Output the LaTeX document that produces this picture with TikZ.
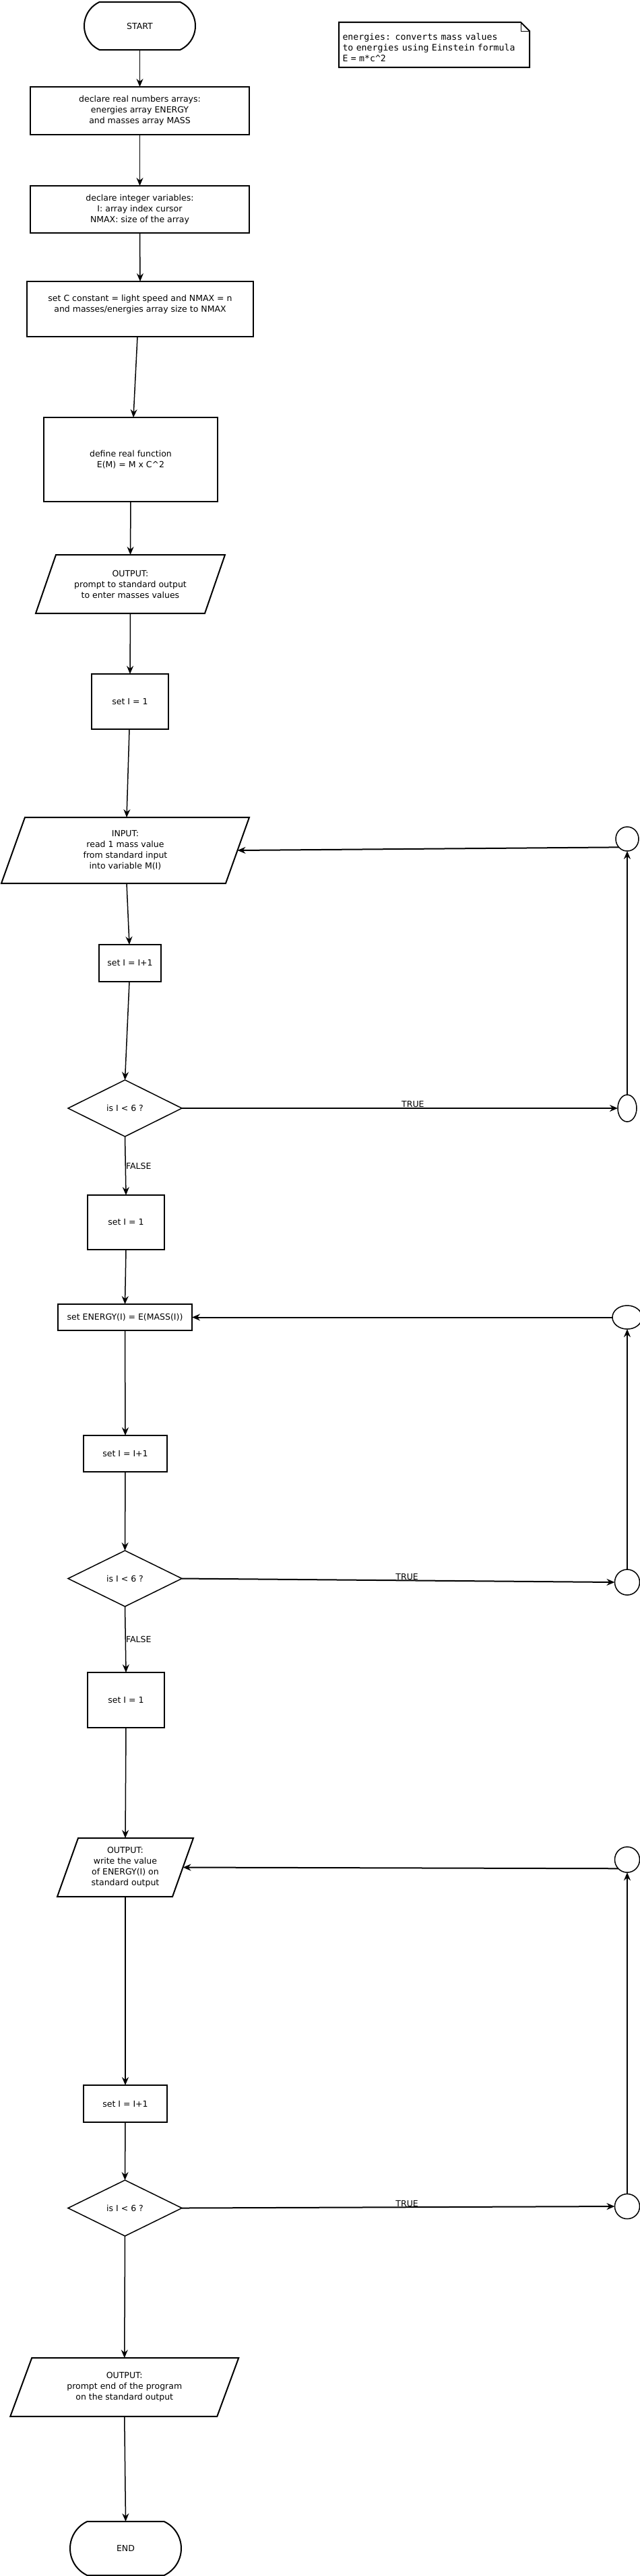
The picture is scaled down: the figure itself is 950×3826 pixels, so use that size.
\documentclass[tikz,border=0pt]{standalone}
\usepackage{fontspec}
\setmainfont{DejaVu Sans}
\newfontfamily\notefont{DejaVu Sans Mono}
\usetikzlibrary{shapes.geometric,shapes.misc,arrows.meta,calc}
\tikzset{
  box/.style={draw, line width=2pt, rectangle, align=center, inner sep=0pt, outer sep=0pt},
  pbox/.style={rectangle, align=center, inner sep=0pt, outer sep=0pt},
  pline/.style={line width=2pt, line join=miter},
  term/.style={draw, line width=2pt, rounded rectangle, rounded rectangle arc length=130, inner sep=0pt, outer sep=0pt},
  dec/.style={draw, diamond, line width=1.5pt, inner sep=0pt, outer sep=0pt},
  conn/.style={draw, ellipse, line width=1.5pt, inner sep=0pt, outer sep=0pt},
  arr/.style={line width=1.5pt, -{Stealth[length=12pt,width=10pt,inset=4pt]}},
  back/.style={line width=2pt, -{Stealth[length=12pt,width=10pt,inset=4pt]}},
  lbl/.style={inner sep=0pt}
}
\newcommand{\pgram}[2]{\draw[pline] ($(#1.north west)+(#2,0)$) -- ($(#1.north east)+(#2,0)$) -- ($(#1.south east)+(-#2,0)$) -- ($(#1.south west)+(-#2,0)$) -- cycle;}
\begin{document}
\begin{tikzpicture}[x=1pt, y=-1pt, font=\fontsize{12.5}{16}\selectfont]
\useasboundingbox (0,0) rectangle (950,3826);
\fill[white] (0,0) rectangle (950,3826);

% note
\node[align=left, text width=272pt, inner sep=0pt, font=\notefont\fontsize{13.2}{16}\selectfont] (note) at (644.5,71) {energies: converts mass values\\to energies using Einstein formula\\E = m*c\textasciicircum 2};
\draw[line width=2pt] ($(note.center)+(-141.5,-38)$) -- ($(note.center)+(128.5,-38)$) -- ($(note.center)+(141.5,-25)$) -- ($(note.center)+(141.5,29)$) -- ($(note.center)+(-141.5,29)$) -- cycle;
\draw[line width=1pt] ($(note.center)+(128.5,-38)$) -- ($(note.center)+(128.5,-25)$) -- ($(note.center)+(141.5,-25)$);

% main column
\node[term, minimum width=165pt, minimum height=71pt] (start) at (207.5,38.5) {START};
\node[box, minimum width=325pt, minimum height=71pt] (b1) at (207.5,164.5) {declare real numbers arrays:\\energies array ENERGY\\and masses array MASS};
\node[box, minimum width=325pt, minimum height=70pt] (b2) at (207.5,311) {declare integer variables:\\I: array index cursor\\NMAX: size of the array};
\node[box, minimum width=336pt, minimum height=82pt] (b3) at (208,459) {set C constant = light speed and NMAX = n\\and masses/energies array size to NMAX\\\mbox{}};
\node[box, minimum width=258pt, minimum height=125pt] (def) at (194,682.5) {define real function\\E(M) = M x C\textasciicircum 2};
\node[pbox, minimum width=251pt, minimum height=87pt] (out1) at (193.5,867.5) {OUTPUT:\\prompt to standard output\\to enter masses values};
\pgram{out1}{15}
\node[box, minimum width=114pt, minimum height=82pt] (seti1) at (193,1042) {set I = 1};
\node[pbox, minimum width=333pt, minimum height=98pt] (in) at (186,1263) {INPUT:\\read 1 mass value\\from standard input\\ into variable M(I)};
\pgram{in}{17.5}
\node[box, minimum width=92pt, minimum height=55pt] (inc1) at (193,1430.5) {set I = I+1};
\node[dec, minimum width=169pt, minimum height=84pt] (d1) at (185.5,1646) {is I < 6 ?};
\node[box, minimum width=114pt, minimum height=81pt] (seti2) at (187,1815.5) {set I = 1};
\node[box, minimum width=199pt, minimum height=39pt] (en) at (185.5,1956.5) {set ENERGY(I) = E(MASS(I))};
\node[box, minimum width=124pt, minimum height=54pt] (inc2) at (186,2159) {set I = I+1};
\node[dec, minimum width=169pt, minimum height=83pt] (d2) at (185.5,2344.5) {is I < 6 ?};
\node[box, minimum width=114pt, minimum height=82pt] (seti3) at (187,2525) {set I = 1};
\node[pbox, minimum width=171pt, minimum height=87pt] (out2) at (186,2773.5) {OUTPUT:\\write the value\\of ENERGY(I) on\\standard output};
\pgram{out2}{15.5}
\node[box, minimum width=124pt, minimum height=55pt] (inc3) at (186,3124.5) {set I = I+1};
\node[dec, minimum width=169pt, minimum height=83pt] (d3) at (185.5,3279.5) {is I < 6 ?};
\node[pbox, minimum width=307pt, minimum height=87pt] (out3) at (184.75,3545.5) {OUTPUT:\\prompt end of the program\\on the standard output};
\pgram{out3}{16}
\node[term, minimum width=165pt, minimum height=80pt] (end) at (186.5,3785) {END};

% connector circles
\node[conn, minimum width=34pt, minimum height=36pt] (c1) at (931,1246) {};
\node[conn, minimum width=28pt, minimum height=40pt] (e1) at (931,1646) {};
\node[conn, minimum width=44pt, minimum height=35pt] (c2) at (931,1956.5) {};
\node[conn, minimum width=37pt, minimum height=38pt] (c3) at (931,2350) {};
\node[conn, minimum width=37pt, minimum height=38pt] (c4) at (931,2762) {};
\node[conn, minimum width=37pt, minimum height=37pt] (c5) at (931,3277) {};

% main flow
\draw[arr] (start.south) -- (b1.north);
\draw[arr] (b1.south) -- (b2.north);
\draw[arr] (b2.south) -- (b3.north);
\draw[arr] ([xshift=-4pt]b3.south) -- ([xshift=4pt]def.north);
\draw[arr] (def.south) -- (out1.north);
\draw[arr] (out1.south) -- (seti1.north);
\draw[arr] ([xshift=-1pt]seti1.south) -- ([xshift=2pt]in.north);
\draw[arr] ([xshift=2pt]in.south) -- ([xshift=-1pt]inc1.north);
\draw[arr] ([xshift=-1pt]inc1.south) -- (d1.north);
\draw[arr] (d1.south) -- (seti2.north) node[lbl, pos=0.5, right] {FALSE};
\draw[arr] (seti2.south) -- (en.north);
\draw[arr] (en.south) -- (inc2.north);
\draw[arr] (inc2.south) -- (d2.north);
\draw[arr] (d2.south) -- (seti3.north) node[lbl, pos=0.5, right] {FALSE};
\draw[arr] (seti3.south) -- (out2.north);
\draw[arr] (out2.south) -- (inc3.north);
\draw[arr] (inc3.south) -- (d3.north);
\draw[arr] (d3.south) -- (out3.north);
\draw[arr] (out3.south) -- (end.north);

% loops
\draw[back] (d1.east) -- (e1.west) node[lbl, pos=0.53, above] {TRUE};
\draw[back] (e1.north) -- (c1.south);
\draw[back] (c1.225) -- (in.east);
\draw[back] (d2.east) -- (c3.west) node[lbl, pos=0.52, above] {TRUE};
\draw[back] (c3.north) -- (c2.south);
\draw[back] (c2.west) -- (en.east);
\draw[back] (d3.east) -- (c5.west) node[lbl, pos=0.52, above] {TRUE};
\draw[back] (c5.north) -- (c4.south);
\draw[back] (c4.225) -- (out2.east);
\end{tikzpicture}
\end{document}
